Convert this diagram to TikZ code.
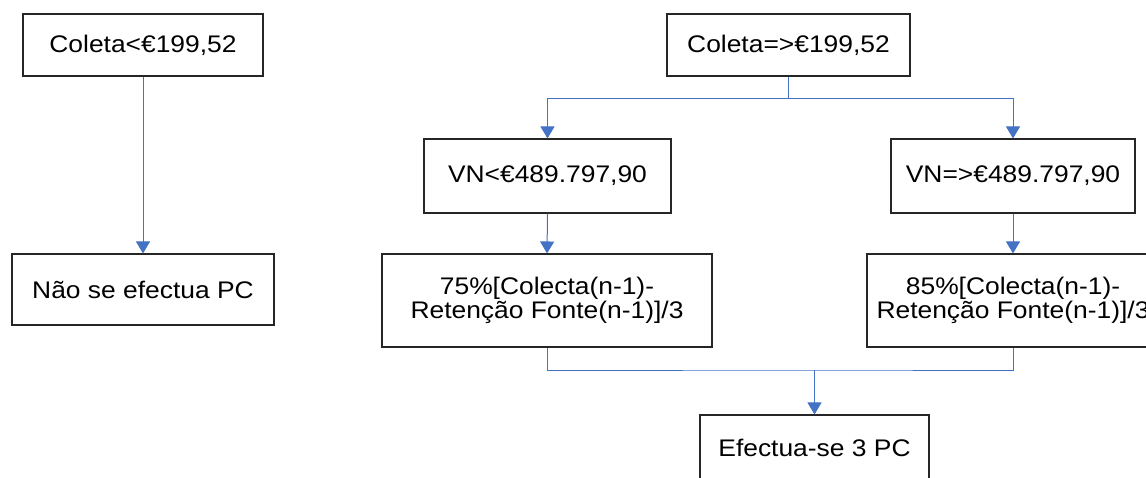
\documentclass[tikz,border=0pt]{standalone}
\usepackage{fontspec}
\setmainfont{Liberation Sans}[FakeStretch=1.1]
\usetikzlibrary{arrows.meta}
\definecolor{linkblue}{HTML}{4472C4}

\begin{document}
\begin{tikzpicture}[x=0.75pt,y=-0.75pt,
    box/.style={draw=black!85, line width=0.8pt, inner sep=0pt, align=center,
        font=\fontsize{18}{18}\selectfont},
    link/.style={draw=linkblue, line width=0.75pt},
    arr/.style={link, -{Triangle[width=10.5pt,length=9pt]}}]
    \useasboundingbox (0,0) rectangle (1146,478);
    \clip (0,0) rectangle (1146,478);

    \node[box, minimum width=180pt, minimum height=46.5pt] (c1) at (143,45) {Coleta<€199,52};
    \node[box, minimum width=182.25pt, minimum height=46.5pt] (c2) at (788.5,45) {Coleta=>€199,52};
    \node[box, minimum width=196.5pt, minimum height=53.25pt] (n1) at (143,289.5) {Não se efectua PC};
    \node[box, minimum width=185.25pt, minimum height=55.5pt] (v1) at (547.5,176) {VN<€489.797,90};
    \node[box, minimum width=183pt, minimum height=55.5pt] (v2) at (1013,176) {VN=>€489.797,90};
    \node[box, minimum width=247.5pt, minimum height=69.75pt] (f1) at (547,300.5) {75\%[Colecta(n-1)-\\Retenção Fonte(n-1)]/3};
    \node[box, minimum width=219pt, minimum height=69.75pt] (f2) at (1013,300.5) {85\%[Colecta(n-1)-\\Retenção Fonte(n-1)]/3};
    \node[box, minimum width=171.75pt, minimum height=49.5pt] (e1) at (814.5,448) {Efectua-se 3 PC};

    \draw[arr] (c1.south) -- (n1.north);

    % split under the right top box
    \coordinate (sp) at (788.5,99);
    \draw[link] (c2.south) -- (sp);
    \draw[arr] (sp) -| (v1.north);
    \draw[arr] (sp) -| (v2.north);

    \draw[arr] (v1.south) -- (f1.north);
    \draw[arr] (v2.south) -- (f2.north);

    % join above the last box
    \coordinate (jn) at (814.5,370);
    \draw[link] (f1.south) |- (jn) -| (f2.south);
    \draw[arr] (jn) -- (e1.north);
\end{tikzpicture}
\end{document}
